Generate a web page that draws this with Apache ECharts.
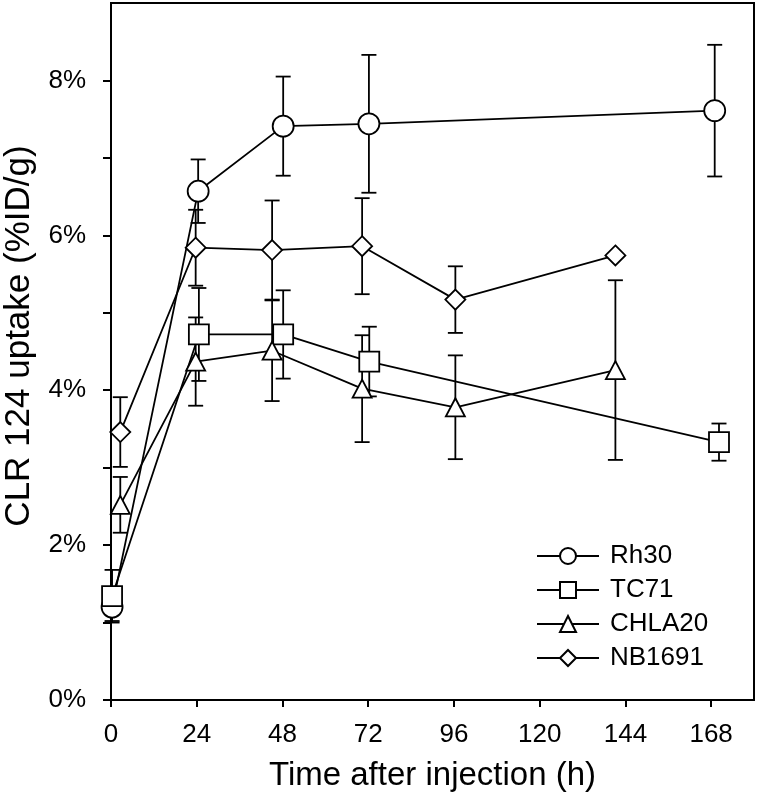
<!DOCTYPE html>
<html>
<head>
<meta charset="utf-8">
<script src="https://cdn.jsdelivr.net/npm/echarts@6/dist/echarts.min.js"></script>
<style>
html,body{margin:0;padding:0;background:#fff;}
#chart{width:757px;height:799px;}
</style>
</head>
<body>
<div id="chart"></div>
<script>
// ---- data ----
const seriesNames = ['Rh30', 'TC71', 'CHLA20', 'NB1691'];
const rh30Time  = [0.3, 24.4, 48.2, 72.2, 169];
const rh30Mean  = [1.20, 6.57, 7.41, 7.44, 7.61];
const rh30Sd    = [0.18, 0.41, 0.64, 0.89, 0.85];

const tc71Time  = [0.3, 24.6, 48.2, 72.3, 170.2];
const tc71Mean  = [1.34, 4.72, 4.72, 4.37, 3.33];
const tc71Sd    = [0.34, 0.60, 0.57, 0.45, 0.24];

const chla20Time = [2.6, 23.7, 45.1, 70.3, 96.4, 141.2];
const chla20Mean = [2.52, 4.37, 4.51, 4.02, 3.78, 4.26];
const chla20Sd   = [0.36, 0.57, 0.65, 0.69, 0.67, 1.16];

const nb1691Time = [2.6, 23.7, 45.1, 70.3, 96.4, 141.2];
const nb1691Mean = [3.46, 5.84, 5.81, 5.86, 5.17, 5.74];
const nb1691Sd   = [0.45, 0.49, 0.64, 0.62, 0.43, 0];

const xTicks = [0, 24, 48, 72, 96, 120, 144, 168];
const yTicks = [0, 1, 2, 3, 4, 5, 6, 7, 8];
const yLabels = [0, 2, 4, 6, 8];
const xTitle = 'Time after injection (h)';
const yTitle = 'CLR 124 uptake (%ID/g)';
const symbols = ['circle', 'rect', 'triangle', 'diamond'];
const symbolSizes = [21, 20, [19, 18], 20];

const FONT = '"Liberation Sans", Arial, sans-serif';

function pts(t, m) { return t.map((v, i) => [v, m[i]]); }
function errPts(t, m, s) { return t.map((v, i) => [v, m[i], s[i]]); }

const groups = [
  [rh30Time, rh30Mean, rh30Sd],
  [tc71Time, tc71Mean, tc71Sd],
  [chla20Time, chla20Mean, chla20Sd],
  [nb1691Time, nb1691Mean, nb1691Sd]
];

const series = [];
groups.forEach((g, k) => {
  series.push({
    type: 'custom',
    name: seriesNames[k] + ' err',
    z: 1,
    silent: true,
    data: errPts(g[0], g[1], g[2]),
    renderItem: function (params, api) {
      const x = api.value(0), y = api.value(1), s = api.value(2);
      if (!s) return null;
      const top = api.coord([x, y + s]);
      const bot = api.coord([x, y - s]);
      const hw = 7.5;
      const st = { stroke: '#000', lineWidth: 1.8 };
      return {
        type: 'group',
        children: [
          { type: 'line', shape: { x1: top[0], y1: top[1], x2: bot[0], y2: bot[1] }, style: st },
          { type: 'line', shape: { x1: top[0] - hw, y1: top[1], x2: top[0] + hw, y2: top[1] }, style: st },
          { type: 'line', shape: { x1: bot[0] - hw, y1: bot[1], x2: bot[0] + hw, y2: bot[1] }, style: st }
        ]
      };
    }
  });
});
groups.forEach((g, k) => {
  series.push({
    type: 'line',
    name: seriesNames[k],
    z: 2,
    data: pts(g[0], g[1]),
    symbol: symbols[k],
    symbolSize: symbolSizes[k],
    showAllSymbol: true,
    lineStyle: { color: '#000', width: 1.8 },
    itemStyle: { color: '#fff', borderColor: '#000', borderWidth: 1.8 },
    emphasis: { disabled: true },
    animation: false
  });
});

const chart = echarts.init(document.getElementById('chart'), null, { renderer: 'canvas' });
chart.setOption({
  animation: false,
  backgroundColor: '#fff',
  grid: {
    left: 111, right: 3, top: 3, bottom: 99,
    show: true, borderColor: '#000', borderWidth: 2, backgroundColor: 'transparent'
  },
  graphic: [{
    type: 'text',
    x: 19, y: 336,
    rotation: Math.PI / 2,
    style: {
      text: yTitle, fill: '#000',
      font: '35px ' + FONT,
      align: 'center', verticalAlign: 'middle'
    }
  }],
  legend: {
    data: seriesNames,
    orient: 'vertical',
    left: 536, top: 543,
    itemWidth: 62, itemHeight: 20, itemGap: 8,
    padding: 0,
    selectedMode: false,
    textStyle: { fontFamily: FONT, fontSize: 26, color: '#000', lineHeight: 26, padding: [0, 0, 0, 6] }
  },
  xAxis: {
    type: 'value', min: 0, max: 180,
    name: xTitle,
    nameLocation: 'middle', nameGap: 59,
    nameTextStyle: { fontFamily: FONT, fontSize: 33, color: '#000' },
    axisLine: { show: true, onZero: false, lineStyle: { color: '#000', width: 2 } },
    axisTick: { show: true, length: 7, inside: false, customValues: xTicks, lineStyle: { color: '#000', width: 2 } },
    axisLabel: { customValues: xTicks, margin: 22, fontFamily: FONT, fontSize: 26, color: '#000' },
    splitLine: { show: false }
  },
  yAxis: {
    type: 'value', min: 0, max: 9,
    axisLine: { show: true, onZero: false, lineStyle: { color: '#000', width: 2 } },
    axisTick: { show: true, length: 8, inside: false, customValues: yTicks, lineStyle: { color: '#000', width: 2 } },
    axisLabel: { customValues: yLabels, margin: 25, fontFamily: FONT, fontSize: 26, color: '#000',
      formatter: function (v) { return v + '%'; } },
    splitLine: { show: false }
  },
  series: series
});
</script>
</body>
</html>
